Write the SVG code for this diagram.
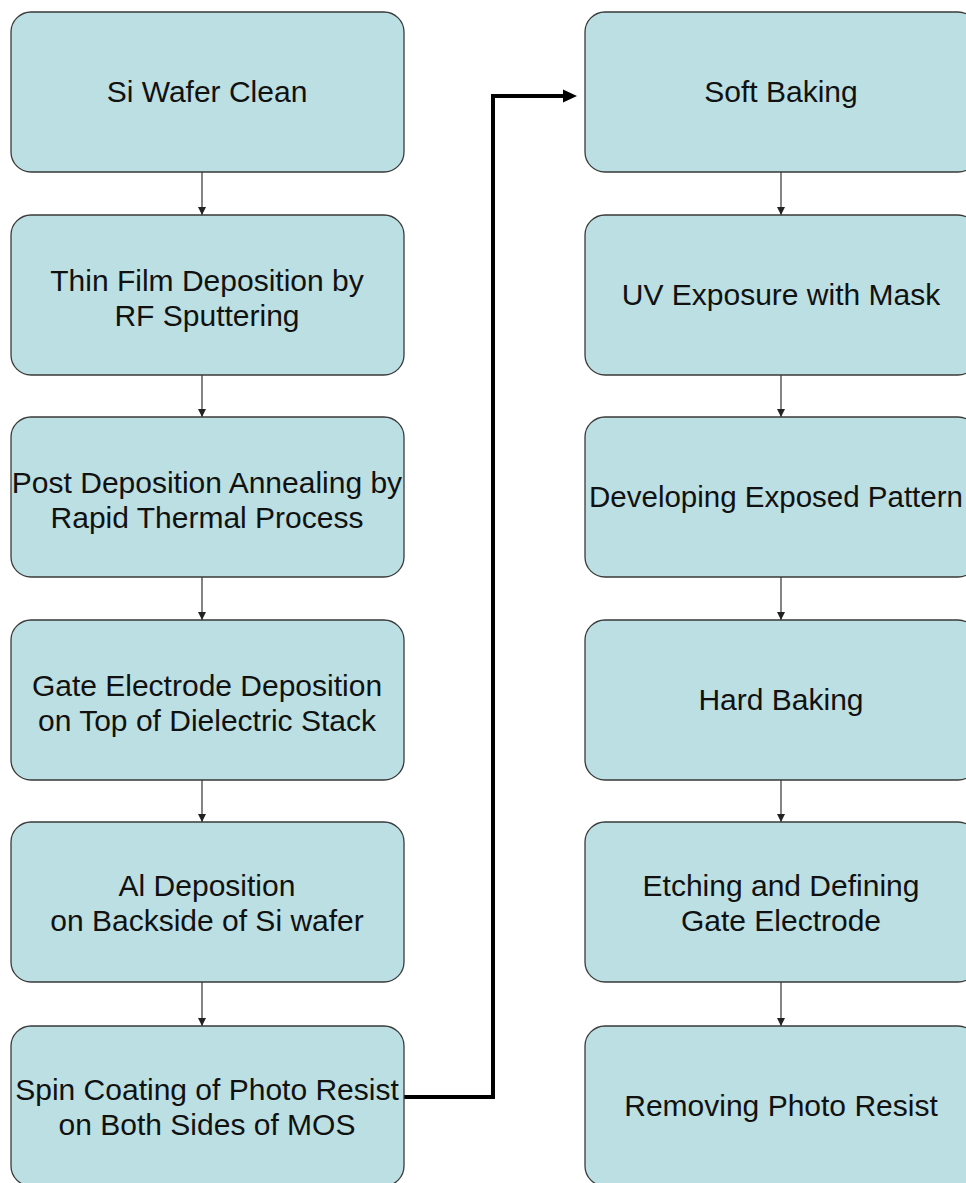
<svg xmlns="http://www.w3.org/2000/svg" width="966" height="1183" viewBox="0 0 966 1183">
<defs>
<style>
.box{fill:#BBDFE2;stroke:#3a3a3a;stroke-width:1.3}
.t{font-family:"Liberation Sans",Arial,sans-serif;font-size:30px;fill:#111;text-anchor:middle}
.c{stroke:#333;stroke-width:1.2;fill:none}
.thick{stroke:#000;stroke-width:4;fill:none}
</style>
<marker id="ah" viewBox="0 0 10 10" refX="10" refY="5" markerWidth="8" markerHeight="8" markerUnits="userSpaceOnUse" orient="auto"><path d="M0,0 L10,5 L0,10 z" fill="#222"/></marker>
</defs>
<rect width="966" height="1183" fill="#fff"/>
<g id="connectors">
<path class="c" d="M202,172 V215" marker-end="url(#ah)"/>
<path class="c" d="M202,375 V417" marker-end="url(#ah)"/>
<path class="c" d="M202,577 V620" marker-end="url(#ah)"/>
<path class="c" d="M202,780 V822" marker-end="url(#ah)"/>
<path class="c" d="M202,982 V1026" marker-end="url(#ah)"/>
<path class="c" d="M781,172 V215" marker-end="url(#ah)"/>
<path class="c" d="M781,375 V417" marker-end="url(#ah)"/>
<path class="c" d="M781,577 V620" marker-end="url(#ah)"/>
<path class="c" d="M781,780 V822" marker-end="url(#ah)"/>
<path class="c" d="M781,982 V1026" marker-end="url(#ah)"/>
<path class="thick" d="M404,1097 H493 V96 H565"/>
<polygon points="563,89.5 577,96 563,102.5" fill="#000"/>
</g>
<g id="n1"><rect class="box" x="11" y="12" width="393" height="160" rx="20"/><text class="t" x="207" y="102">Si Wafer Clean</text></g>
<g id="n2"><rect class="box" x="11" y="215" width="393" height="160" rx="20"/><text class="t" x="207" y="291">Thin Film Deposition by</text><text class="t" x="207" y="326">RF Sputtering</text></g>
<g id="n3"><rect class="box" x="11" y="417" width="393" height="160" rx="20"/><text class="t" x="207" y="493">Post Deposition Annealing by</text><text class="t" x="207" y="528">Rapid Thermal Process</text></g>
<g id="n4"><rect class="box" x="11" y="620" width="393" height="160" rx="20"/><text class="t" x="207" y="696">Gate Electrode Deposition</text><text class="t" x="207" y="731">on Top of Dielectric Stack</text></g>
<g id="n5"><rect class="box" x="11" y="822" width="393" height="160" rx="20"/><text class="t" x="207" y="896">Al Deposition</text><text class="t" x="207" y="931">on Backside of Si wafer</text></g>
<g id="n6"><rect class="box" x="11" y="1026" width="393" height="160" rx="20"/><text class="t" x="207" y="1100">Spin Coating of Photo Resist</text><text class="t" x="207" y="1135">on Both Sides of MOS</text></g>
<g id="n7"><rect class="box" x="585" y="12" width="393" height="160" rx="20"/><text class="t" x="781" y="102">Soft Baking</text></g>
<g id="n8"><rect class="box" x="585" y="215" width="393" height="160" rx="20"/><text class="t" x="781" y="305">UV Exposure with Mask</text></g>
<g id="n9"><rect class="box" x="585" y="417" width="393" height="160" rx="20"/><text class="t" x="776" y="507" style="font-size:29.5px">Developing Exposed Pattern</text></g>
<g id="n10"><rect class="box" x="585" y="620" width="393" height="160" rx="20"/><text class="t" x="781" y="710">Hard Baking</text></g>
<g id="n11"><rect class="box" x="585" y="822" width="393" height="160" rx="20"/><text class="t" x="781" y="896">Etching and Defining</text><text class="t" x="781" y="931">Gate Electrode</text></g>
<g id="n12"><rect class="box" x="585" y="1026" width="393" height="160" rx="20"/><text class="t" x="781" y="1116">Removing Photo Resist</text></g>
</svg>
